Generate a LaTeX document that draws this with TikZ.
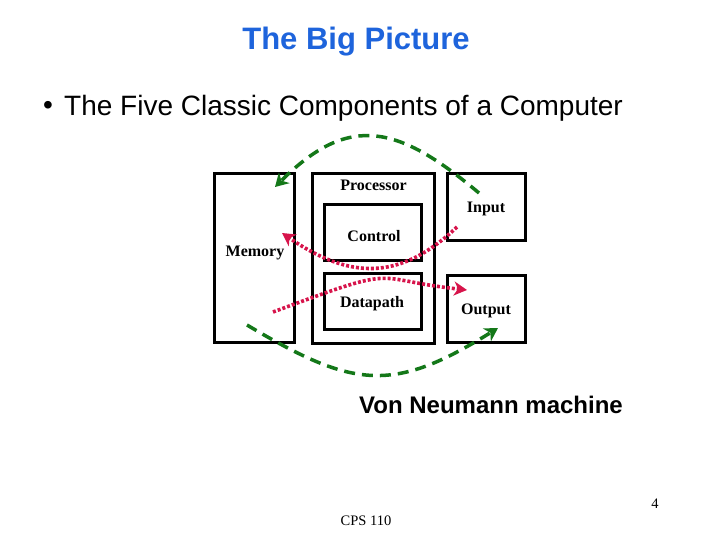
\documentclass[tikz,border=0pt]{standalone}
\usepackage{fontspec}
\setmainfont{Liberation Serif}
\newfontfamily\arialfont{Liberation Sans}
\usetikzlibrary{arrows.meta,positioning}
\definecolor{titleblue}{RGB}{30,100,220}
\definecolor{busgreen}{RGB}{20,120,25}
\definecolor{flowred}{RGB}{215,20,75}
\begin{document}
\begin{tikzpicture}[x=1pt,y=-1pt,
  unit/.style={draw,rectangle,line width=3pt,inner sep=0pt},
  txt/.style={inner sep=0pt,font=\fontsize{16}{18}\selectfont\bfseries},
  greenbus/.style={busgreen,line width=3.5pt,dash pattern=on 11pt off 7pt,
    -{Stealth[length=13pt,width=15pt,inset=4pt]}},
  redflow/.style={flowred,line width=3.6pt,dash pattern=on 3pt off 2pt,
    -{Stealth[length=13pt,width=14pt,inset=4pt]}}]
\fill[white] (0,0) rectangle (720,540);
\useasboundingbox (0,0) rectangle (720,540);

% Slide texts
\node[font=\arialfont\fontsize{31}{35}\selectfont\bfseries,text=titleblue] (title) at (356,42) {The Big Picture};
\node[font=\arialfont\fontsize{28}{32}\selectfont] (bullet) at (48,108) {•};
\node[font=\arialfont\fontsize{28}{32}\selectfont,anchor=west,inner sep=0pt] (subtitle) at (64,108) {The Five Classic Components of a Computer};
\node[font=\arialfont\fontsize{24}{28}\selectfont\bfseries] (vonneumann) at (491,405) {Von Neumann machine};
\node[font=\fontsize{14.5}{16}\selectfont] (course) at (366,521) {CPS 110};
\node[font=\fontsize{14.5}{16}\selectfont] (pagenum) at (655,504) {4};

% The five components
\node[unit,minimum width=80pt,minimum height=169pt] (memory) at (254.5,258) {};
\node[unit,minimum width=122pt,minimum height=170pt] (processor) at (373.5,258.5) {};
\node[unit,minimum width=97pt,minimum height=56pt] (control) at (373,232.5) {};
\node[unit,minimum width=97pt,minimum height=56pt] (datapath) at (373,301.5) {};
\node[unit,minimum width=78pt,minimum height=67pt] (input) at (486.5,207) {};
\node[unit,minimum width=78pt,minimum height=67pt] (output) at (486.5,309) {};

\node[txt] (memorytext) at (255,253) {Memory};
\node[txt,below=8pt of processor.north] (processortext) {Processor};
\node[txt] (controltext) at (374,236) {Control};
\node[txt] (datapathtext) at (372,304) {Datapath};
\node[txt] (inputtext) at (486,209) {Input};
\node[txt] (outputtext) at (486,311) {Output};

% Ends of the flows
\coordinate (inbus) at (479,193);
\coordinate (membus) at (275,187);
\coordinate (memout) at (247,325);
\coordinate (outbus) at (498,328);
\coordinate (inflow) at (457,227);
\coordinate (memflow) at (282,233);
\coordinate (memstart) at (273,312);
\coordinate (outflow) at (467,290);

\draw[greenbus] (inbus) .. controls (399,126) and (350,112) .. (membus);
\draw[greenbus] (memout) .. controls (353,388) and (392,394) .. (outbus);
\draw[redflow] (inflow) .. controls (399,282) and (349,279) .. (memflow);
\draw[redflow] (memstart) .. controls (405,263) and (367,279) .. (outflow);
\end{tikzpicture}
\end{document}
